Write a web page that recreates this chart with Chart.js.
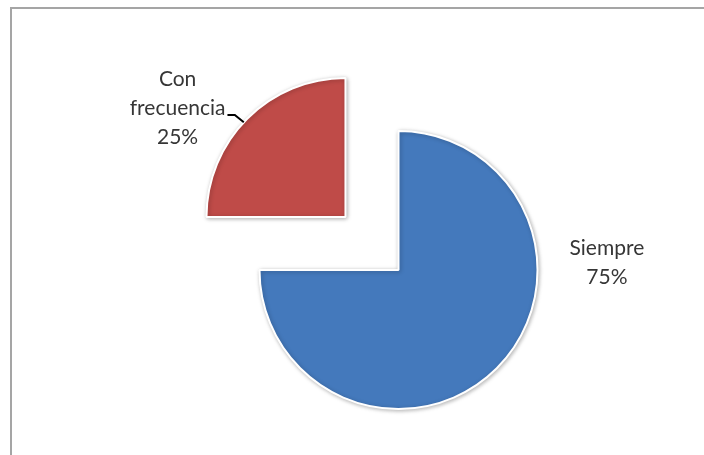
<!DOCTYPE html>
<html>
<head>
<meta charset="utf-8">
<script src="https://cdn.jsdelivr.net/npm/chart.js@4"></script>
<style>
  html, body { margin: 0; padding: 0; background: #fff; }
  #wrap { position: relative; width: 704px; height: 455px; overflow: hidden; }
  #frame {
    position: absolute; left: 10px; top: 7px; width: 720px; height: 470px;
    border-left: 2px solid #a5a5a5; border-top: 2px solid #a5a5a5;
  }
  canvas { position: absolute; left: 0; top: 0; }
</style>
</head>
<body>
<div id="wrap">
  <div id="frame"></div>
  <canvas id="pieChart" width="704" height="455"></canvas>
</div>
<script>
// Data
const categories = ['Siempre', 'Con frecuencia'];
const percentages = [75, 25];
const sliceColors = ['#4479bc', '#bf4b48'];

// Label placement: angle (deg, canvas coords) and distance as a multiple of the radius
const labelAngles = [-2, 213];
const labelDistances = [1.5, 1.44];

const ctx = document.getElementById('pieChart').getContext('2d');

// Soft shadow behind the slices
const sliceShadow = {
  id: 'sliceShadow',
  beforeDatasetsDraw(chart) {
    const c = chart.ctx;
    c.save();
    c.shadowColor = 'rgba(0,0,0,0.28)';
    c.shadowBlur = 4;
    c.shadowOffsetX = 1;
    c.shadowOffsetY = 1;
  },
  afterDatasetsDraw(chart) {
    chart.ctx.restore();
  }
};

// Category + percent labels outside each slice
const sliceLabels = {
  id: 'sliceLabels',
  afterDraw(chart) {
    const c = chart.ctx;
    const meta = chart.getDatasetMeta(0);
    c.save();
    c.font = '21px Lato, "Open Sans", sans-serif';
    c.fillStyle = '#363636';
    c.textAlign = 'center';
    c.textBaseline = 'middle';
    meta.data.forEach((arc, i) => {
      const p = arc.getProps(['x', 'y', 'startAngle', 'endAngle', 'outerRadius']);
      const mid = (p.startAngle + p.endAngle) / 2;
      const shift = (arc.options.offset || 0) / 4;
      const cx = p.x + Math.cos(mid) * shift;
      const cy = p.y + Math.sin(mid) * shift;
      const a = labelAngles[i] * Math.PI / 180;
      const lx = cx + Math.cos(a) * p.outerRadius * labelDistances[i];
      const ly = cy + Math.sin(a) * p.outerRadius * labelDistances[i];

      const lines = categories[i].split(' ').concat(percentages[i] + '%');
      const lh = 29;
      const top = ly - (lines.length - 1) * lh / 2;
      lines.forEach((t, k) => c.fillText(t, lx, top + k * lh));

      // leader line for the small slice
      if (i === 1) {
        const w = c.measureText(lines[1]).width;
        const sx = lx + w / 2 + 2;
        const sy = top + lh + 7;
        const ea = 223 * Math.PI / 180;
        const ex = cx + Math.cos(ea) * p.outerRadius;
        const ey = cy + Math.sin(ea) * p.outerRadius;
        c.strokeStyle = '#000';
        c.lineWidth = 2;
        c.beginPath();
        c.moveTo(sx, sy);
        c.lineTo(ex - 9, sy);
        c.lineTo(ex, ey);
        c.stroke();
      }
    });
    c.restore();
  }
};

new Chart(ctx, {
  type: 'pie',
  data: {
    labels: categories,
    datasets: [{
      data: percentages,
      backgroundColor: sliceColors,
      borderColor: '#ffffff',
      borderWidth: 2,
      offset: [0, 300],
      radius: 139
    }]
  },
  options: {
    responsive: false,
    animation: false,
    layout: { padding: { left: 93, right: 0, top: 85, bottom: 0 } },
    plugins: {
      legend: { display: false },
      tooltip: { enabled: false }
    }
  },
  plugins: [sliceShadow, sliceLabels]
});
</script>
</body>
</html>
